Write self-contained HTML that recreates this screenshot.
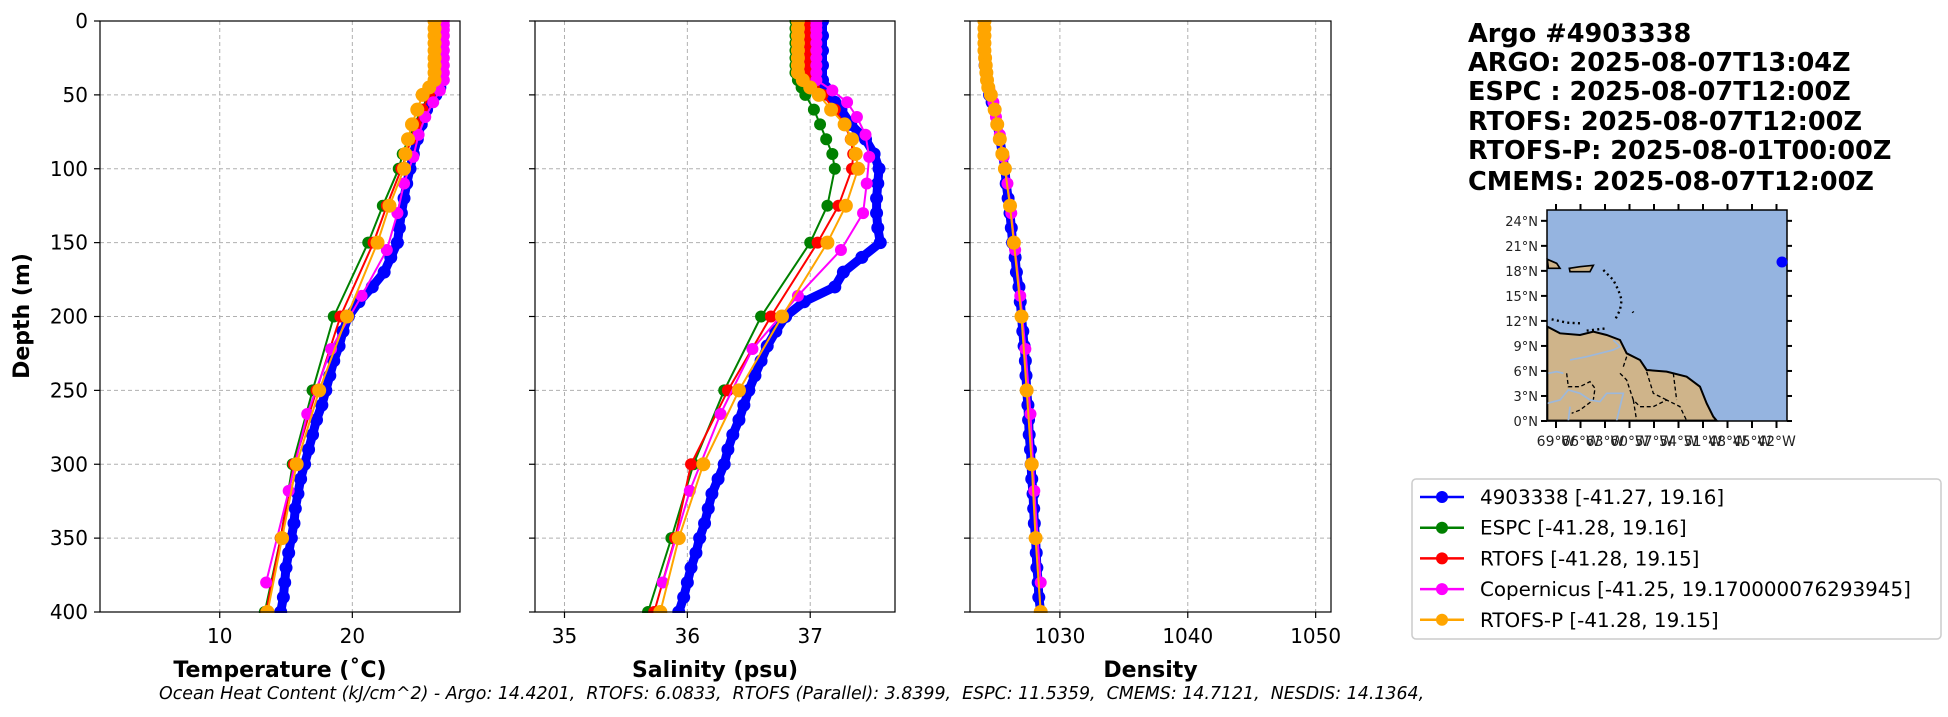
<!DOCTYPE html>
<html><head><meta charset="utf-8"><style>
body{margin:0;background:#fff;}
svg text{font-family:"DejaVu Sans","Liberation Sans",sans-serif;white-space:pre;}
</style></head><body>
<svg id="fig" width="1948" height="712" xmlns="http://www.w3.org/2000/svg">
<rect width="1948" height="712" fill="#fff"/>
<g id="plots"></g>
<g font-weight="bold" font-size="25.6">
<text x="1468" y="42">Argo #4903338</text>
<text x="1468" y="71">ARGO: 2025-08-07T13:04Z</text>
<text x="1468" y="100">ESPC : 2025-08-07T12:00Z</text>
<text x="1468" y="130">RTOFS: 2025-08-07T12:00Z</text>
<text x="1468" y="159">RTOFS-P: 2025-08-01T00:00Z</text>
<text x="1468" y="190">CMEMS: 2025-08-07T12:00Z</text>
</g>
<g>
<rect x="1547" y="210" width="240" height="211" fill="#95b4e0"/>
<g transform="translate(1480,200) scale(0.3333)">
<path d="M202,380 L240,400 L300,405 L340,395 L380,405 L420,420 L440,460 L480,480 L500,510 L560,515 L620,530 L660,560 L680,610 L700,650 L710,662 L202,662 Z" fill="#cfb48a" stroke="#000" stroke-width="6"/>
<path d="M202,178 L230,190 L240,205 L205,205 Z M268,205 L300,200 L340,196 L330,215 L270,215 Z" fill="#cfb48a" stroke="#000" stroke-width="5"/>
<path d="M370,210 L400,240 L415,270 L425,300 L420,330 L405,360 M215,358 L260,368 L300,370 M320,392 L380,385 M458,335 L460,338" fill="none" stroke="#000" stroke-width="7" stroke-dasharray="6,10"/>
<path d="M260,520 L265,560 L300,560 L330,545 L345,565 L340,600 L300,630 L275,640 M420,520 L440,540 L460,600 L480,620 L520,620 L560,600 L600,620 L620,662 M500,515 L520,580 L560,600 M580,520 L590,600 M440,470 L430,500 M460,600 L470,662" fill="none" stroke="#000" stroke-width="4" stroke-dasharray="12,8"/>
<path d="M202,610 L240,600 L265,570 L300,580 L330,600 L360,605 L380,580 L430,580 L410,662 M270,480 L320,470 L360,460 L400,450 L420,440 L400,420 M205,520 L230,515 L250,520 M270,620 L265,662" fill="none" stroke="#9cb8dc" stroke-width="5"/>
</g>
<rect x="1547" y="210" width="240" height="211" fill="none" stroke="#000" stroke-width="1.5"/>
<g id="mapticks" font-size="14" fill="#222"></g>
<circle cx="1782" cy="262" r="5.5" fill="#0000ff"/>
</g>
<g>
<rect x="1412" y="479" width="529" height="160" rx="4" fill="#fff" stroke="#ccc" stroke-width="1.5"/>
<g id="legend-items" font-size="19.9"></g>
</g>
<text x="159" y="699" font-size="17.4" font-style="italic">Ocean Heat Content (kJ/cm^2) - Argo: 14.4201,  RTOFS: 6.0833,  RTOFS (Parallel): 3.8399,  ESPC: 11.5359,  CMEMS: 14.7121,  NESDIS: 14.1364,</text>
</svg>
<script>
// ---------- data ----------
const argoDepth=[0,10,20,30,40,45,50,55,60,70,80,90,100,110,120,130,140,150,160,170,180,190,200,210,220,230,240,250,260,270,280,290,300,310,320,330,340,350,360,370,380,390,400];
const argoTemp=[26.8,26.8,26.8,26.8,26.8,26.6,26.3,25.9,25.6,25.2,24.9,24.6,24.35,24.1,23.9,23.7,23.55,23.4,22.9,22.4,21.5,20.5,19.7,19.3,19.0,18.6,18.3,18.0,17.7,17.3,17.0,16.7,16.4,16.1,15.9,15.7,15.6,15.4,15.2,15.0,14.9,14.8,14.6];
const argoSal=[37.10,37.10,37.10,37.10,37.10,37.12,37.15,37.2,37.25,37.33,37.45,37.52,37.56,37.55,37.54,37.54,37.55,37.57,37.42,37.27,37.2,36.95,36.8,36.72,36.65,36.6,36.55,36.5,36.46,36.42,36.37,36.33,36.3,36.25,36.2,36.17,36.14,36.1,36.07,36.03,36.0,35.97,35.93];
const argoDens=[1024.1,1024.1,1024.1,1024.15,1024.3,1024.4,1024.5,1024.7,1024.9,1025.1,1025.3,1025.5,1025.7,1025.8,1025.95,1026.1,1026.2,1026.3,1026.5,1026.6,1026.8,1026.9,1027.0,1027.1,1027.2,1027.3,1027.35,1027.4,1027.5,1027.55,1027.6,1027.7,1027.75,1027.8,1027.9,1027.95,1028.0,1028.1,1028.15,1028.2,1028.3,1028.35,1028.5];
const modelDepth=[0,5,10,15,20,25,30,35,40,45,50,60,70,80,90,100,125,150,200,250,300,350,400];
const copDepth=[0,3,6,10,15,20,25,30,35,40,47,55,65,77,92,110,130,155,186,222,266,318,380];
const espcTemp=[26.4,26.4,26.4,26.4,26.4,26.4,26.4,26.4,26.4,26.2,25.8,25.2,24.7,24.2,23.8,23.5,22.3,21.2,18.6,17.0,15.5,14.6,13.4];
const rtofsTemp=[26.4,26.4,26.4,26.4,26.4,26.4,26.4,26.4,26.4,26.2,25.8,25.3,24.8,24.4,24.1,23.7,22.6,21.6,19.1,17.3,15.6,14.6,13.5];
const rtofspTemp=[26.2,26.2,26.2,26.2,26.2,26.2,26.2,26.2,26.2,25.8,25.3,24.9,24.5,24.2,24.0,23.9,22.8,21.9,19.6,17.5,15.8,14.7,13.6];
const copTemp=[26.9,26.9,26.9,26.9,26.9,26.9,26.9,26.9,26.9,26.9,26.6,26.1,25.5,25.0,24.6,23.9,23.4,22.6,20.7,18.4,16.6,15.2,13.5];
const espcSal=[36.88,36.88,36.88,36.88,36.88,36.88,36.88,36.88,36.9,36.93,36.96,37.03,37.08,37.13,37.18,37.2,37.14,37.0,36.6,36.3,36.05,35.87,35.68];
const rtofsSal=[36.99,36.99,36.99,36.99,36.99,36.99,36.99,36.99,36.99,37.03,37.1,37.2,37.28,37.33,37.35,37.34,37.23,37.06,36.68,36.33,36.03,35.9,35.73];
const rtofspSal=[36.9,36.9,36.9,36.9,36.9,36.9,36.9,36.9,36.94,37.0,37.07,37.17,37.28,37.34,37.37,37.39,37.29,37.14,36.77,36.42,36.13,35.93,35.78];
const copSal=[37.05,37.05,37.05,37.05,37.05,37.05,37.05,37.05,37.05,37.05,37.18,37.3,37.38,37.45,37.48,37.46,37.43,37.25,36.9,36.53,36.27,36.02,35.8];
const modelDens=[1024.1,1024.1,1024.1,1024.1,1024.1,1024.15,1024.2,1024.25,1024.3,1024.4,1024.6,1024.9,1025.1,1025.3,1025.5,1025.7,1026.1,1026.4,1027.0,1027.4,1027.8,1028.1,1028.5];
const copDens=[1024.1,1024.1,1024.1,1024.1,1024.1,1024.1,1024.15,1024.2,1024.25,1024.3,1024.5,1024.8,1025.0,1025.3,1025.6,1025.9,1026.2,1026.5,1026.9,1027.3,1027.7,1028.0,1028.5];
const depthTicks=[0,50,100,150,200,250,300,350,400];
const tempTicks=[10,20];
const salTicks=[35,36,37];
const densTicks=[1030,1040,1050];
const legendLabels=["4903338 [-41.27, 19.16]","ESPC [-41.28, 19.16]","RTOFS [-41.28, 19.15]","Copernicus [-41.25, 19.170000076293945]","RTOFS-P [-41.28, 19.15]"];
const legendColors=["#0000ff","#008000","#ff0000","#ff00ff","#ffa500"];
const mapLatTicks=[0,3,6,9,12,15,18,21,24];
const mapLonTicks=[69,66,63,60,57,54,51,48,45,42];

const NS="http://www.w3.org/2000/svg";
function mk(tag,attrs,parent){const e=document.createElementNS(NS,tag);for(const k in attrs)e.setAttribute(k,attrs[k]);parent.appendChild(e);return e;}
const Y0=21,Y1=612;
function yS(d){return Y0+(d/400)*(Y1-Y0);}
const plots=document.getElementById('plots');
const panels=[
 {name:'temperature',x0:100,x1:460,min:0.97,max:28.12,ticks:tempTicks,label:'Temperature (˚C)',
  series:[[argoDepth,argoTemp,0],[modelDepth,espcTemp,1],[modelDepth,rtofsTemp,2],[copDepth,copTemp,3],[modelDepth,rtofspTemp,4]]},
 {name:'salinity',x0:535,x1:895,min:34.76,max:37.69,ticks:salTicks,label:'Salinity (psu)',
  series:[[argoDepth,argoSal,0],[modelDepth,espcSal,1],[modelDepth,rtofsSal,2],[copDepth,copSal,3],[modelDepth,rtofspSal,4]]},
 {name:'density',x0:970,x1:1331,min:1022.97,max:1051.2,ticks:densTicks,label:'Density',
  series:[[argoDepth,argoDens,0],[modelDepth,modelDens,1],[modelDepth,modelDens,2],[copDepth,copDens,3],[modelDepth,modelDens,4]]}
];
const seriesNames=['argo','espc','rtofs','copernicus','rtofs-p'];
panels.forEach((p,pi)=>{
 const xS=v=>p.x0+(v-p.min)/(p.max-p.min)*(p.x1-p.x0);
 const g=mk('g',{},plots);
 
 
 mk('rect',{x:p.x0,y:Y0,width:p.x1-p.x0,height:Y1-Y0,fill:'#fff'},g);
 const clip=mk('clipPath',{id:'clip'+pi},g);
 mk('rect',{x:p.x0,y:Y0-1,width:p.x1-p.x0,height:Y1-Y0+2},clip);
 depthTicks.forEach(d=>{
  const l=mk('line',{x1:p.x0,x2:p.x1,y1:yS(d),y2:yS(d),stroke:'#b0b0b0','stroke-width':1,'stroke-dasharray':'4,3'},g);
  
  
  mk('line',{x1:p.x0-6,x2:p.x0,y1:yS(d),y2:yS(d),stroke:'#000','stroke-width':1.2},g);
  if(pi===0){
   const t=mk('text',{x:p.x0-12,y:yS(d)+7,'text-anchor':'end','font-size':20},g);
   t.textContent=d;
   
   
  }
 });
 p.ticks.forEach(v=>{
  const l=mk('line',{x1:xS(v),x2:xS(v),y1:Y0,y2:Y1,stroke:'#b0b0b0','stroke-width':1,'stroke-dasharray':'4,3'},g);
  
  
  mk('line',{x1:xS(v),x2:xS(v),y1:Y1,y2:Y1+6,stroke:'#000','stroke-width':1.2},g);
  const t=mk('text',{x:xS(v),y:Y1+31,'text-anchor':'middle','font-size':20},g);
  t.textContent=v;
  
  
 });
 const sg=mk('g',{'clip-path':'url(#clip'+pi+')'},g);
 p.series.forEach(([ds,vs,ci])=>{
  const pts=ds.map((d,i)=>xS(vs[i]).toFixed(1)+','+yS(d).toFixed(1)).join(' ');
  const isArgo=ci===0;
  const pl=mk('polyline',{points:pts,fill:'none',stroke:legendColors[ci],'stroke-width':isArgo?9:2,'stroke-linejoin':'round'},sg);
  
  
  ds.forEach((d,i)=>{
   const c=mk('circle',{cx:xS(vs[i]),cy:yS(d),r:isArgo?6.5:(ci===4?7:6),fill:legendColors[ci]},sg);
   
   
  });
 });
 mk('rect',{x:p.x0,y:Y0,width:p.x1-p.x0,height:Y1-Y0,fill:'none',stroke:'#000','stroke-width':1.2},g);
 const xl=mk('text',{x:(p.x0+p.x1)/2,y:677,'text-anchor':'middle','font-size':22,'font-weight':'bold'},g);
 xl.textContent=p.label;
 
 
});
const yl=mk('text',{x:0,y:0,'text-anchor':'middle','font-size':22,'font-weight':'bold',transform:'translate(29,316) rotate(-90)'},plots);
yl.textContent='Depth (m)';



// map ticks
const mt=document.getElementById('mapticks');
mapLatTicks.forEach(lat=>{
 const y=421-lat*(211/25.3);
 mk('line',{x1:1541,x2:1547,y1:y,y2:y,stroke:'#000','stroke-width':2},mt);
 mk('line',{x1:1787,x2:1792,y1:y,y2:y,stroke:'#000','stroke-width':2},mt);
 const t=mk('text',{x:1538,y:y+5,'text-anchor':'end','font-size':13},mt);
 t.textContent=lat+'°N';
 
 
});
mapLonTicks.forEach(lon=>{
 const x=1556+(69-lon)/3*24.5;
 mk('line',{x1:x,x2:x,y1:421,y2:428,stroke:'#000','stroke-width':2},mt);
 mk('line',{x1:x,x2:x,y1:204,y2:210,stroke:'#000','stroke-width':2},mt);
 const t=mk('text',{x:x,y:446,'text-anchor':'middle','font-size':14},mt);
 t.textContent=lon+'°W';
 
 
});

// legend
const li=document.getElementById('legend-items');
legendLabels.forEach((lab,i)=>{
 const y=497+i*30.7;
 const g=mk('g',{},li);
 
 
 mk('line',{x1:1420,x2:1464,y1:y,y2:y,stroke:legendColors[i],'stroke-width':2.5},g);
 mk('circle',{cx:1442,cy:y,r:6,fill:legendColors[i]},g);
 const t=mk('text',{x:1480,y:y+7},g);
 t.textContent=lab;
});
</script>
</body></html>
